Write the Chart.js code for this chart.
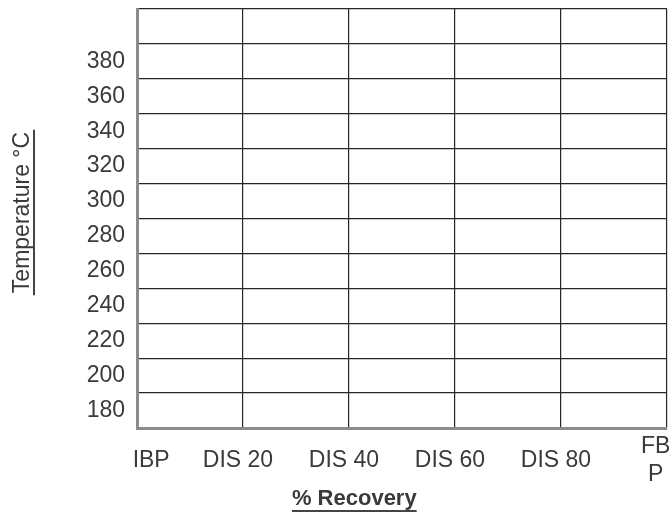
<!DOCTYPE html>
<html>
<head>
<meta charset="utf-8">
<script src="https://cdn.jsdelivr.net/npm/chart.js@4"></script>
<style>
  html, body { margin: 0; padding: 0; background: #fff; }
  #wrap { width: 672px; height: 516px; }
</style>
</head>
<body>
<div id="wrap"><canvas id="myChart"></canvas></div>
<script>
// blank distillation sheet: x categories, temperature rows, no readings yet
const recoveryLabels = ['IBP', 'DIS 20', 'DIS 40', 'DIS 60', 'DIS 80', ['FB', 'P']];
const temperatureTicks = [380, 360, 340, 320, 300, 280, 260, 240, 220, 200, 180];
const temperatureValues = [];   // nothing plotted on the form

const yLabels = [''].concat(temperatureTicks.map(String));
const FONT = "'Liberation Sans', Arial, sans-serif";

const titles = {
    id: 'underlined_titles',
    afterDraw: (chart) => {
        const {ctx, chartArea} = chart;
        ctx.save();
        ctx.fillStyle = '#3a3a3a';
        ctx.strokeStyle = '#444';
        ctx.lineWidth = 2;

        // x title, bold + underline
        ctx.font = 'bold 22px ' + FONT;
        ctx.textAlign = 'center';
        ctx.textBaseline = 'alphabetic';
        let cx = chartArea.left + (chartArea.right - chartArea.left) * 0.41;
        let by = chart.height - 11;
        ctx.fillText('% Recovery', cx, by);
        let w = ctx.measureText('% Recovery').width;
        ctx.beginPath();
        ctx.moveTo(cx - w / 2, by + 6);
        ctx.lineTo(cx + w / 2, by + 6);
        ctx.stroke();

        // y title, rotated + underline
        ctx.font = '23px ' + FONT;
        let cy = (chartArea.top + chartArea.bottom) / 2 - 6;
        ctx.translate(29, cy);
        ctx.rotate(-Math.PI / 2);
        ctx.fillText('Temperature °C', 0, 0);
        w = ctx.measureText('Temperature °C').width;
        ctx.beginPath();
        ctx.moveTo(-w / 2 - 2, 5);
        ctx.lineTo(w / 2 + 2, 5);
        ctx.stroke();
        ctx.restore();
    }
};

const bg = {
    id: 'custom_canvas_background_color',
    beforeDraw: (chart) => {
        const ctx = chart.canvas.getContext('2d');
        ctx.save();
        ctx.globalCompositeOperation = 'destination-over';
        ctx.fillStyle = 'white';
        ctx.fillRect(0, 0, chart.width, chart.height);
        ctx.restore();
    }
};

new Chart(document.getElementById('myChart').getContext('2d'), {
    type: 'line',
    data: {
        labels: recoveryLabels,
        datasets: [{
            label: 'Temperature',
            data: temperatureValues,
            borderColor: '#000'
        }]
    },
    options: {
        responsive: true,
        maintainAspectRatio: false,
        animation: false,
        layout: { padding: { top: 9, right: 5, left: 0, bottom: 0 } },
        plugins: {
            legend: { display: false },
            tooltip: { enabled: false }
        },
        scales: {
            x: {
                type: 'category',
                offset: false,
                grid: { color: '#262626', lineWidth: 1.2, drawTicks: false },
                border: { color: '#8c8c8c', width: 3 },
                ticks: {
                    color: '#3a3a3a',
                    font: { family: FONT, size: 23 },
                    padding: 19,
                    labelOffset: -5,
                    crossAlign: 'center',
                    maxRotation: 0,
                    autoSkip: false,
                    // scanned labels sit a bit off their lines; nudge first/last with spaces
                    callback: function (value, index) {
                        const l = recoveryLabels[index];
                        if (index === 0) return '      ' + l;
                        if (Array.isArray(l)) return l.map(s => s + '  ');
                        return l;
                    }
                },
                afterFit: (scale) => {
                    scale.height = 88;
                    scale.paddingLeft = 0;
                    scale.paddingRight = 0;
                }
            },
            y: {
                type: 'category',
                labels: yLabels,
                offset: true,
                grid: { offset: true, color: '#262626', lineWidth: 1.2, drawTicks: false },
                border: { color: '#8c8c8c', width: 3 },
                ticks: {
                    color: '#3a3a3a',
                    font: { family: FONT, size: 23 },
                    padding: 12,
                    autoSkip: false
                },
                afterFit: (scale) => {
                    scale.width = 137;
                    scale.paddingTop = 0;
                    scale.paddingBottom = 0;
                }
            }
        }
    },
    plugins: [bg, titles]
});
</script>
</body>
</html>
